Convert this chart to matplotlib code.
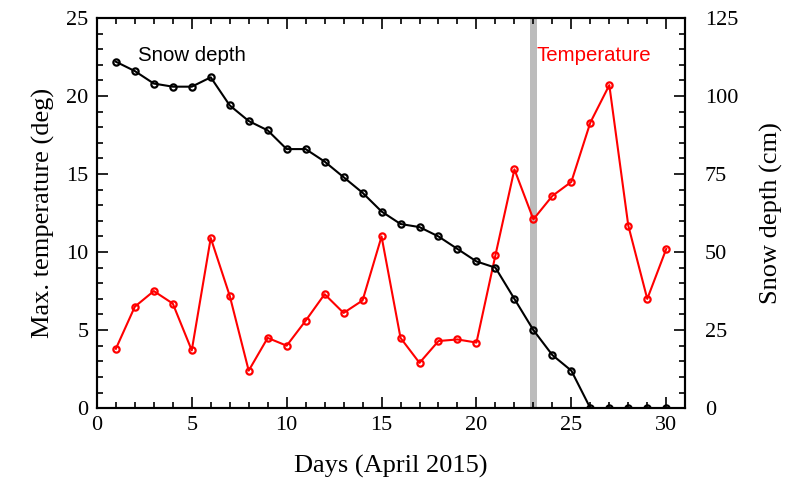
import numpy as np
import matplotlib.pyplot as plt
from matplotlib.ticker import MultipleLocator

days = np.arange(1, 31)
temperature = [3.8, 6.5, 7.5, 6.7, 3.7, 10.9, 7.2, 2.4, 4.5, 4.0,
               5.6, 7.3, 6.1, 6.9, 11.0, 4.5, 2.9, 4.3, 4.4, 4.2,
               9.8, 15.3, 12.1, 13.6, 14.5, 18.3, 20.7, 11.7, 7.0, 10.2]
snow_depth = [111, 108, 104, 103, 103, 106, 97, 92, 89, 83,
              83, 79, 74, 69, 63, 59, 58, 55, 51, 47,
              45, 35, 25, 17, 12, 0, 0, 0, 0, 0]
event_day = 23

serif = 'Liberation Serif'
sans = 'Liberation Sans'

fig = plt.figure(figsize=(7.94, 4.87), dpi=100)
ax = fig.add_axes([0.122, 0.162, 0.741, 0.801])
ax2 = ax.twinx()

# shaded marker at the event day
ax.axvspan(event_day - 0.2, event_day + 0.2, color='#a0a0a0', alpha=0.7, lw=0, zorder=0)

ax.plot(days, temperature, color='red', lw=1.5, marker='o', ms=4.5,
        mfc='none', mec='red', mew=1.6, zorder=3)
ax2.plot(days, snow_depth, color='black', lw=1.5, marker='o', ms=4.5,
         mfc='none', mec='black', mew=1.6, zorder=3)

ax.set_xlim(0, 31)
ax.set_ylim(0, 25)
ax2.set_ylim(0, 125)

ax.xaxis.set_major_locator(MultipleLocator(5))
ax.xaxis.set_minor_locator(MultipleLocator(1))
ax.yaxis.set_major_locator(MultipleLocator(5))
ax.yaxis.set_minor_locator(MultipleLocator(1))
ax2.yaxis.set_major_locator(MultipleLocator(25))
ax2.yaxis.set_minor_locator(MultipleLocator(5))

ax.tick_params(which='both', direction='in', top=True, right=False,
               labelsize=16, width=1.2)
ax.tick_params(which='major', length=8, pad=6)
ax.tick_params(which='minor', length=4)
ax2.tick_params(which='both', direction='in', labelsize=16, width=1.2)
ax2.tick_params(which='major', length=8, pad=14)
ax2.tick_params(which='minor', length=4)
for a in (ax, ax2):
    for lab in a.get_xticklabels() + a.get_yticklabels():
        lab.set_fontfamily(serif)
    for s in a.spines.values():
        s.set_linewidth(1.5)

ax.set_xlabel('Days (April 2015)', fontfamily=serif, fontsize=19, labelpad=14)
ax.set_ylabel('Max. temperature (deg)', fontfamily=serif, fontsize=19, labelpad=8)
ax2.set_ylabel('Snow depth (cm)', fontfamily=serif, fontsize=19, labelpad=16)

ax.text(2.15, 22.6, 'Snow depth', fontfamily=sans, fontsize=14.7,
        color='black', va='center', ha='left')
ax.text(23.15, 22.6, 'Temperature', fontfamily=sans, fontsize=14.7,
        color='red', va='center', ha='left')

fig.savefig('out.png', dpi=100)
